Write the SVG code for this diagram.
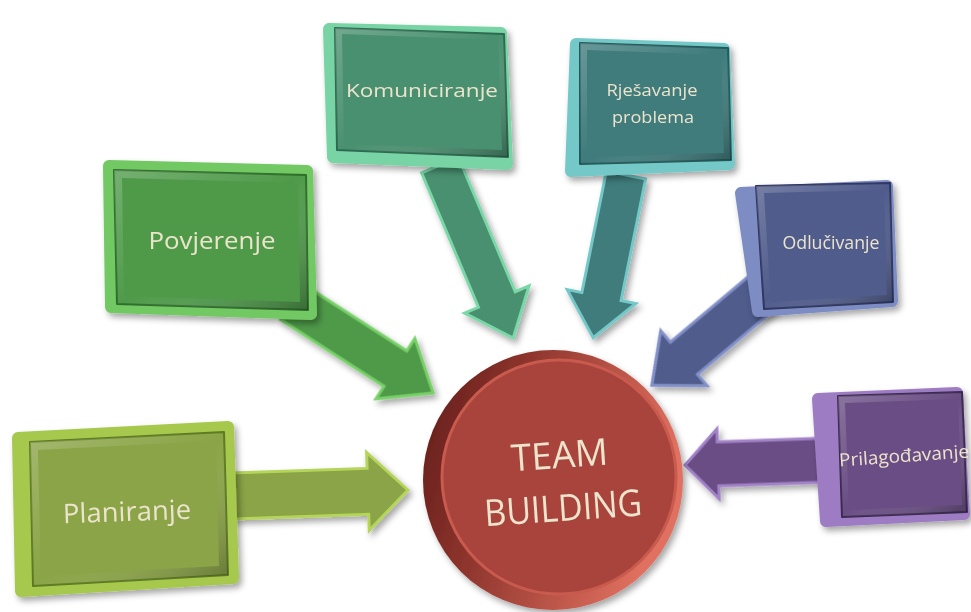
<svg xmlns="http://www.w3.org/2000/svg" width="971" height="612" viewBox="0 0 971 612">
<defs>
<filter id="sh" x="-20%" y="-20%" width="140%" height="140%"><feDropShadow dx="3" dy="4" stdDeviation="3" flood-color="#000" flood-opacity="0.35"/></filter>
<linearGradient id="shade" x1="0" y1="0" x2="1" y2="1"><stop offset="0" stop-color="#fff" stop-opacity="0.22"/><stop offset="0.5" stop-color="#fff" stop-opacity="0"/><stop offset="1" stop-color="#000" stop-opacity="0.3"/></linearGradient>
<linearGradient id="rimRed" x1="0" y1="0" x2="1" y2="0.3"><stop offset="0" stop-color="#5e1c18"/><stop offset="0.35" stop-color="#8a322b"/><stop offset="1" stop-color="#e0705f"/></linearGradient>
</defs>
<style>
.rim{stroke-width:12;stroke-linejoin:round}
.bev{stroke-width:2;stroke-linejoin:round}
.ov{fill:url(#shade)}
.arr{stroke-width:3;stroke-linejoin:miter}
.t{font-family:"Open Sans","Noto Sans","Liberation Sans",sans-serif;fill:#ece4cc;text-anchor:middle}
</style>

<g id="connectors">
<g filter="url(#sh)">
<polygon class="arr" fill="#8aa446" stroke="#b4d45a" transform="translate(232,496) rotate(-1.95)" points="0,-23 136,-23 136,-39 176,0 136,39 136,23 0,23"/>
<polygon class="arr" fill="#4f9a4a" stroke="#78d068" transform="translate(292,302) rotate(32.8)" points="0,-21 123,-21 123,-36 168,0 123,36 123,21 0,21"/>
<polygon class="arr" fill="#4a9070" stroke="#7ad8a8" transform="translate(440,165) rotate(67.1)" points="0,-20 146,-20 146,-35 188,0 146,35 146,20 0,20"/>
<polygon class="arr" fill="#3f7b7c" stroke="#74c8c8" transform="translate(626,175) rotate(101.4)" points="0,-20 124,-20 124,-35 166,0 124,35 124,20 0,20"/>
<polygon class="arr" fill="#505c8c" stroke="#8290c8" transform="translate(765,290) rotate(139.9)" points="0,-21 106,-21 106,-36 148,0 106,36 106,21 0,21"/>
<polygon class="arr" fill="#6a4e84" stroke="#a282c8" transform="translate(830,460) rotate(178)" points="0,-22 112,-22 112,-35 145,0 112,35 112,22 0,22"/>
</g>
</g>

<g id="node-center">
<circle cx="553" cy="480" r="130" fill="url(#rimRed)" filter="url(#sh)"/>
<circle cx="559" cy="477" r="117" fill="#a8443c" stroke="#c85a4e" stroke-width="3"/>
<g transform="rotate(-4 560 490)">
<text class="t" x="562" y="468" font-size="37" textLength="97" lengthAdjust="spacingAndGlyphs">TEAM</text>
<text class="t" x="562" y="521" font-size="37" textLength="158" lengthAdjust="spacingAndGlyphs">BUILDING</text>
</g>
</g>

<g id="node-planiranje" filter="url(#sh)">
<polygon class="rim" fill="#a6c84e" stroke="#a6c84e" points="18,438 228,427 233,578 21,591"/>
<polygon class="bev" fill="#8aa446" stroke="#5d7a22" points="30,442 224,432 228,575 33,586"/>
<polygon class="ov" points="30,442 224,432 228,575 33,586"/>
<polygon fill="#8aa446" points="38,450 216,441 219,566 41,576"/>
<text class="t" x="127" y="521" font-size="27" textLength="128" lengthAdjust="spacingAndGlyphs" transform="rotate(-2 127 512)">Planiranje</text>
</g>

<g id="node-povjerenje" filter="url(#sh)">
<polygon class="rim" fill="#72c864" stroke="#72c864" points="109,166 307,171 311,314 111,307"/>
<polygon class="bev" fill="#4f9a4a" stroke="#2f6e2c" points="114,170 306,175 308,310 117,304"/>
<polygon class="ov" points="114,170 306,175 308,310 117,304"/>
<polygon fill="#4f9a4a" points="122,178 298,183 300,302 124,296"/>
<text class="t" x="212" y="249" font-size="24" textLength="127" lengthAdjust="spacingAndGlyphs">Povjerenje</text>
</g>

<g id="node-komuniciranje" filter="url(#sh)">
<polygon class="rim" fill="#78d4a4" stroke="#78d4a4" points="329,29 501,33 507,164 333,157"/>
<polygon class="bev" fill="#4a9070" stroke="#2d6a50" points="335,28 504,34 508,157 337,150"/>
<polygon class="ov" points="335,28 504,34 508,157 337,150"/>
<polygon fill="#4a9070" points="342,34 498,40 502,150 344,144"/>
<text class="t" x="422" y="97" font-size="19" textLength="152" lengthAdjust="spacingAndGlyphs">Komuniciranje</text>
</g>

<g id="node-rjesavanje" filter="url(#sh)">
<polygon class="rim" fill="#74c8c8" stroke="#74c8c8" points="576,44 724,49 729,164 571,171"/>
<polygon class="bev" fill="#3f7b7c" stroke="#245a5a" points="580,43 728,48 731,160 580,164"/>
<polygon class="ov" points="580,43 728,48 731,160 580,164"/>
<polygon fill="#3f7b7c" points="587,50 721,55 724,153 587,157"/>
<text class="t" x="652" y="96" font-size="17" textLength="91" lengthAdjust="spacingAndGlyphs">Rješavanje</text>
<text class="t" x="653" y="123" font-size="17" textLength="82" lengthAdjust="spacingAndGlyphs">problema</text>
</g>

<g id="node-odlucivanje" filter="url(#sh)">
<polygon class="rim" fill="#7e8cc4" stroke="#7e8cc4" points="741,193 887,186 892,301 758,311"/>
<polygon class="bev" fill="#505c8c" stroke="#2e3660" points="756,186 890,183 893,302 764,309"/>
<polygon class="ov" points="756,186 890,183 893,302 764,309"/>
<polygon fill="#505c8c" points="764,193 884,190 887,295 771,302"/>
<text class="t" x="831" y="249" font-size="18" textLength="97" lengthAdjust="spacingAndGlyphs">Odlučivanje</text>
</g>

<g id="node-prilagodavanje" filter="url(#sh)">
<polygon class="rim" fill="#9e7cc4" stroke="#9e7cc4" points="818,399 957,393 964,514 826,521"/>
<polygon class="bev" fill="#6a4e84" stroke="#3c2a52" points="838,396 962,392 967,512 842,517"/>
<polygon class="ov" points="838,396 962,392 967,512 842,517"/>
<polygon fill="#6a4e84" points="845,403 958,399 962,505 849,510"/>
<text class="t" x="904" y="462" font-size="18" textLength="130" lengthAdjust="spacingAndGlyphs" transform="rotate(-4 904 456)">Prilagođavanje</text>
</g>
</svg>
